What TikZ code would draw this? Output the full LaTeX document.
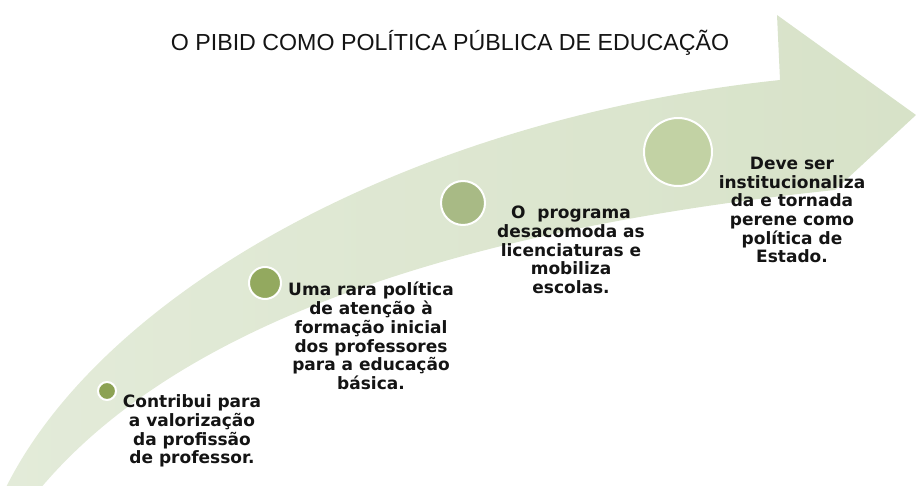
\documentclass[tikz,border=0pt]{standalone}
\usepackage{fontspec}
\setmainfont{DejaVu Sans}
\newfontfamily\titlefont{Liberation Sans}
\usepackage{tikz}
\usetikzlibrary{positioning}
\definecolor{bandLight}{HTML}{E3EBD9}
\definecolor{bandGreen}{HTML}{D7E2C8}
\definecolor{dotA}{HTML}{8CA253}
\definecolor{dotB}{HTML}{93A95F}
\definecolor{dotC}{HTML}{A8BA85}
\definecolor{dotD}{HTML}{C2D2A4}
\definecolor{inkGray}{HTML}{141414}
\tikzstyle{stepDot} = [circle, draw=white, line width=2pt, inner sep=0pt]
\tikzstyle{stepText} = [rectangle, align=center, inner sep=0pt, text=inkGray, font=\bfseries\fontsize{17}{18.7}\selectfont]
\tikzstyle{titleText} = [rectangle, inner sep=0pt, anchor=base, text=inkGray, font=\titlefont\fontsize{23.2}{26}\selectfont]

\begin{document}
\begin{tikzpicture}[x=1pt, y=-1pt, node distance=40pt]
\useasboundingbox (0,0) rectangle (916,486);
\clip (0,0) rectangle (916,486);
\shade [left color=bandLight, right color=bandGreen] (0,500) .. controls (90,300) and (400,120) .. (780,80) -- (777,15) -- (916,115) -- (835,190) .. controls (500,225) and (180,310) .. (31,500) -- cycle;
\node (title) [titleText] at (450,51) {O PIBID COMO POLÍTICA PÚBLICA DE EDUCAÇÃO};
\node (c1) [stepDot, fill=dotA, minimum size=18pt] at (107,391) {};
\node (c2) [stepDot, fill=dotB, minimum size=32pt] at (265,283) {};
\node (c3) [stepDot, fill=dotC, minimum size=44pt] at (463,203) {};
\node (c4) [stepDot, fill=dotD, minimum size=68pt] at (678,152) {};
\node (t1) [stepText, below of=c1, xshift=85pt, yshift=0pt] {Contribui para\\a valorização\\da profissão\\de professor.};
\node (t2) [stepText, below of=c2, xshift=106pt, yshift=-13pt] {Uma rara política\\de atenção à\\formação inicial\\dos professores\\para a educação\\básica.};
\node (t3) [stepText, below of=c3, xshift=108pt, yshift=-7pt] {O\ \ programa\\desacomoda as\\licenciaturas e\\mobiliza\\escolas.};
\node (t4) [stepText, below of=c4, xshift=114pt, yshift=-18pt] {Deve ser\\institucionaliza\\da e tornada\\perene como\\política de\\Estado.};
\end{tikzpicture}
\end{document}
